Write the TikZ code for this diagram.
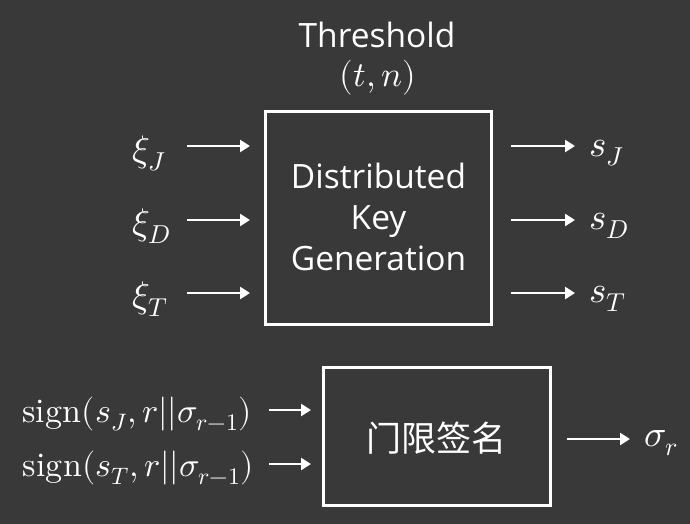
\documentclass[tikz,border=0pt]{standalone}
\usepackage{fontspec}
\usepackage{unicode-math}
\setmainfont{Open Sans}
\setmathfont{Latin Modern Math}
\newfontfamily\cjk{Noto Sans CJK SC}
\usetikzlibrary{arrows.meta}
\definecolor{bg}{HTML}{393939}
\begin{document}
\begin{tikzpicture}[x=1pt,y=-1pt,
  box/.style={draw=white, line width=3pt, fill=bg},
  arr/.style={draw=white, line width=2.5pt, -{Triangle[length=10pt,width=12pt]}},
  lbl/.style={text=white, font=\fontsize{33.5}{41}\selectfont, inner sep=0pt, align=center},
  mlbl/.style={text=white, font=\fontsize{37}{38}\selectfont, inner sep=0pt},
  slbl/.style={text=white, font=\fontsize{34}{35}\selectfont, inner sep=0pt, anchor=east}]
\fill[bg] (0,0) rectangle (690,524);
\useasboundingbox (0,0) rectangle (690,524);
% top block
\node[box, minimum width=226pt, minimum height=212pt] (dkg) at (378.5,218) {};
\node[lbl] (dkgtxt) at (378.5,217) {Distributed\\Key\\Generation};
\node[lbl] (thr) at (377,35) {Threshold};
\node[lbl, font=\fontsize{35}{36}\selectfont] (tn) at (378,78) {$(t,n)$};
% inputs
\node[mlbl, anchor=west] (xiJ) at (132,153) {$\xi_J$};
\node[mlbl, anchor=west] (xiD) at (132,226) {$\xi_D$};
\node[mlbl, anchor=west] (xiT) at (132,299) {$\xi_T$};
\coordinate (aJs) at (187,146); \coordinate (aJe) at (250,146);
\coordinate (aDs) at (187,220); \coordinate (aDe) at (250,220);
\coordinate (aTs) at (187,293); \coordinate (aTe) at (250,293);
\draw[arr] (aJs) -- (aJe);
\draw[arr] (aDs) -- (aDe);
\draw[arr] (aTs) -- (aTe);
% outputs
\node[mlbl, anchor=west] (sJ) at (589,153) {$s_J$};
\node[mlbl, anchor=west] (sD) at (589,226) {$s_D$};
\node[mlbl, anchor=west] (sT) at (589,299) {$s_T$};
\coordinate (bJs) at (511,146); \coordinate (bJe) at (575,146);
\coordinate (bDs) at (511,220); \coordinate (bDe) at (575,220);
\coordinate (bTs) at (511,293); \coordinate (bTe) at (575,293);
\draw[arr] (bJs) -- (bJe);
\draw[arr] (bDs) -- (bDe);
\draw[arr] (bTs) -- (bTe);
% bottom block
\node[box, minimum width=227pt, minimum height=138pt] (ts) at (436.5,436) {};
\node[lbl, font=\cjk\fontsize{35}{36}\selectfont] (tstxt) at (436.5,438) {门限签名};
\node[slbl] (sg1) at (252,414) {$\symup{sign}(s_J,r||\sigma_{r-1})$};
\node[slbl] (sg2) at (254,468) {$\symup{sign}(s_T,r||\sigma_{r-1})$};
\coordinate (c1s) at (269,410); \coordinate (c1e) at (311,410);
\coordinate (c2s) at (269,464); \coordinate (c2e) at (311,464);
\draw[arr] (c1s) -- (c1e);
\draw[arr] (c2s) -- (c2e);
\coordinate (ds) at (567,439); \coordinate (de) at (630,439);
\draw[arr] (ds) -- (de);
\node[mlbl, anchor=west] (sr) at (644,443) {$\sigma_r$};
\end{tikzpicture}
\end{document}
